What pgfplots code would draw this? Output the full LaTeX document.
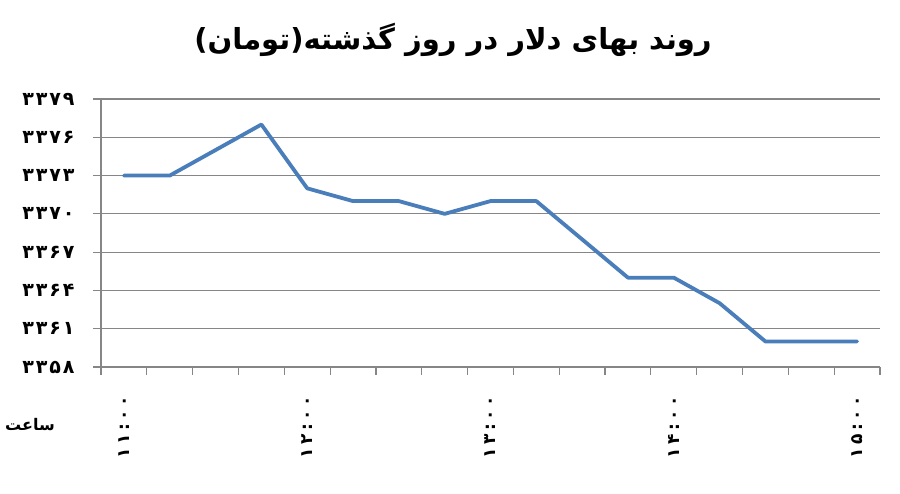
\documentclass[border=0pt]{standalone}
\usepackage{fontspec}
\usepackage{pgfplots}
\pgfplotsset{compat=1.18}
\TeXXeTstate=1
\newfontfamily\fa[Script=Arabic]{DejaVu Sans}
\newfontfamily\faspaced[Script=Arabic, LetterSpace=20]{DejaVu Sans}
\newfontfamily\faspacedy[Script=Arabic, LetterSpace=10]{DejaVu Sans}
\definecolor{lineblue}{RGB}{74,126,187}
\definecolor{gridgray}{RGB}{134,134,134}
\begin{document}
\begin{tikzpicture}
\useasboundingbox (-101pt,-126pt) rectangle (799pt,367pt);
\begin{axis}[
  at={(0,0)}, anchor=south west,
  scale only axis, width=779pt, height=268pt,
  xmin=-0.5, xmax=16.5,
  ymin=3358, ymax=3379,
  axis lines=left,
  axis line style={-, draw=gridgray, line width=1.2pt},
  ytick={3358,3361,...,3379},
  yticklabels={۳۳۵۸,۳۳۶۱,۳۳۶۴,۳۳۶۷,۳۳۷۰,۳۳۷۳,۳۳۷۶,۳۳۷۹},
  yticklabel style={font=\faspacedy\bfseries\fontsize{19}{22}\selectfont, xshift=-15pt},
  ymajorgrids,
  grid style={draw=gridgray, line width=1.2pt},
  tick style={draw=gridgray, line width=1.2pt},
  tick align=outside,
  major tick length=8pt,
  xtick={-0.5,0.5,...,16.5},
  xticklabel=\empty,
  extra x ticks={0,4,8,12,16},
  extra x tick labels={۱۱:۰۰,۱۲:۰۰,۱۳:۰۰,۱۴:۰۰,۱۵:۰۰},
  extra x tick style={major tick length=0pt, grid=none,
     xticklabel style={yshift=-26pt, rotate=90, anchor=east, font=\faspaced\bfseries\fontsize{17}{20}\selectfont}},
  clip=false,
]
\addplot[lineblue, line width=3.8pt, line join=round, line cap=round] coordinates {
(0,3373) (1,3373) (2,3375) (3,3377) (4,3372) (5,3371) (6,3371) (7,3370) (8,3371)
(9,3371) (10,3368) (11,3365) (12,3365) (13,3363) (14,3360) (15,3360) (16,3360)
};
\end{axis}
\node[font=\fa\bfseries\fontsize{29}{33}\selectfont] at (352pt,327pt) {\beginR روند بهای دلار در روز گذشته(تومان)\endR};
\node[font=\fa\bfseries\fontsize{16}{19}\selectfont] at (-71pt,-58pt) {\beginR ساعت\endR};
\end{tikzpicture}
\end{document}
